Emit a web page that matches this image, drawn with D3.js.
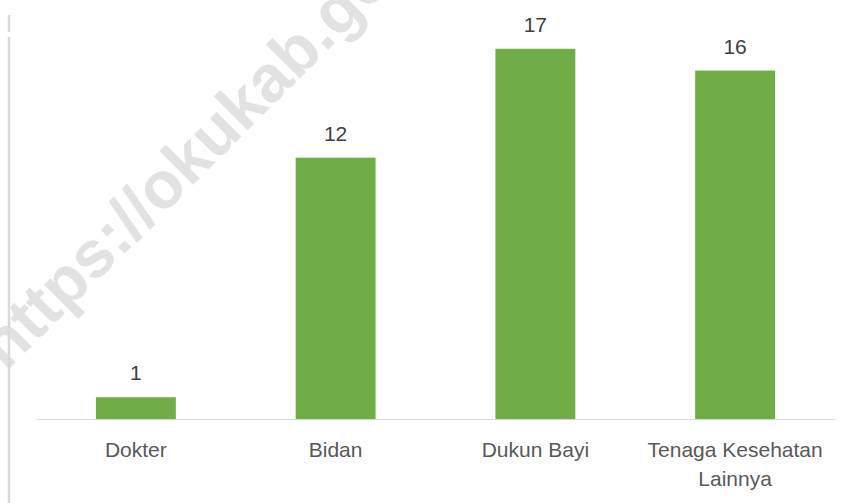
<!DOCTYPE html>
<html>
<head>
<meta charset="utf-8">
<script src="https://cdn.jsdelivr.net/npm/d3@7"></script>
<style>
  body { margin: 0; background: #fff; }
  text { font-family: "Liberation Sans", Arial, sans-serif; }
</style>
</head>
<body>
<script>
var categories = ["Dokter", "Bidan", "Dukun Bayi", "Tenaga Kesehatan|Lainnya"];
var values = [1, 12, 17, 16];
var yMax = 18;

var w = 855;
var h = 503;
var barColor = "#70AD47";
var plotLeft = 36, plotRight = 835, plotTop = 27, baseY = 419;

var svg = d3.select("body")
            .append("svg")
            .attr("width", w)
            .attr("height", h)
            .style("background-color", "#fff");

// faint watermark behind the chart
svg.append("text")
  .attr("transform", "translate(6,372) rotate(-45)")
  .attr("font-size", 66)
  .attr("font-weight", "bold")
  .attr("fill", "#e2e2e2")
  .text("https://okukab.go.id");

// cropped border on the left
svg.append("line")
  .attr("x1", 9).attr("x2", 9).attr("y1", 15).attr("y2", 32)
  .attr("stroke", "#d9d9d9").attr("stroke-width", 2.5);
svg.append("line")
  .attr("x1", 9).attr("x2", 9).attr("y1", 37).attr("y2", h)
  .attr("stroke", "#d9d9d9").attr("stroke-width", 2.5);

var x = d3.scaleBand()
  .domain(categories)
  .range([plotLeft, plotRight])
  .paddingInner(0.6)
  .paddingOuter(0.3);

var y = d3.scaleLinear()
  .domain([0, yMax])
  .range([baseY, plotTop]);

var data = categories.map(function(c, i) { return {cat: c, val: values[i]}; });

svg.selectAll("rect")
  .data(data)
  .enter()
  .append("rect")
  .attr("x", function(d) { return x(d.cat); })
  .attr("y", function(d) { return y(d.val); })
  .attr("width", x.bandwidth())
  .attr("height", function(d) { return y(0) - y(d.val); })
  .attr("fill", barColor);

// x axis
var xAxis = svg.append("g")
  .attr("transform", "translate(0," + baseY + ")")
  .call(d3.axisBottom(x).tickSize(0).tickFormat(""));
xAxis.select(".domain").attr("stroke", "#d9d9d9").attr("stroke-width", 1);

svg.selectAll(".cat")
  .data(data)
  .enter()
  .append("text")
  .attr("class", "cat")
  .attr("text-anchor", "middle")
  .attr("font-size", 21)
  .attr("fill", "#595959")
  .each(function(d) {
    var lines = d.cat.split("|");
    var t = d3.select(this);
    lines.forEach(function(l, j) {
      t.append("tspan")
        .attr("x", x(d.cat) + x.bandwidth() / 2)
        .attr("y", 457 + j * 29)
        .text(l);
    });
  });

svg.selectAll(".num")
  .data(data)
  .enter()
  .append("text")
  .attr("class", "num")
  .text(function(d) { return d.val; })
  .attr("x", function(d) { return x(d.cat) + x.bandwidth() / 2; })
  .attr("y", function(d) { return y(d.val) - 17; })
  .attr("text-anchor", "middle")
  .attr("font-size", 21)
  .attr("fill", "#404040");
</script>
</body>
</html>
